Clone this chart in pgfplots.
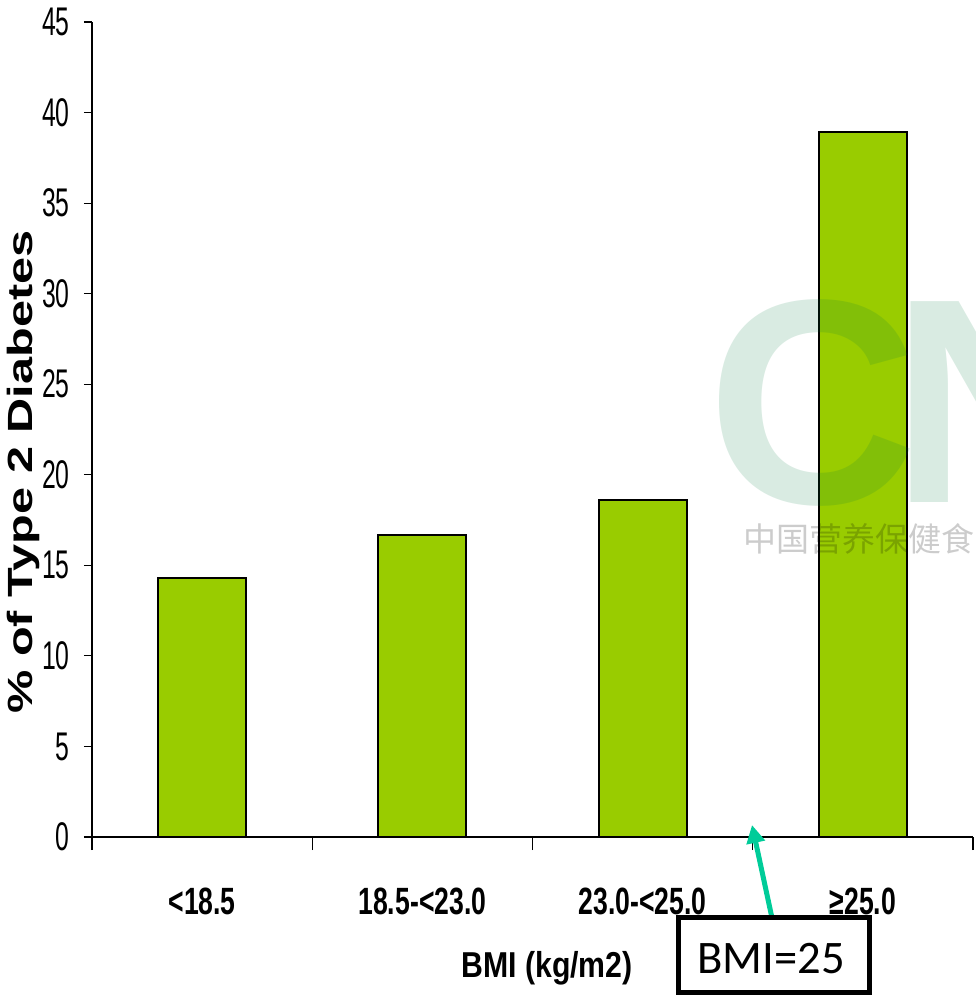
\documentclass[border=0pt]{standalone}
\usepackage{pgfplots}
\pgfplotsset{compat=1.18}
\usepackage{fontspec}
\usetikzlibrary{arrows.meta}
\setmainfont{Liberation Sans}
\newfontfamily\ytickfont[FakeStretch=0.62]{Liberation Sans}
\newfontfamily\xtickfont[FakeStretch=0.70]{Liberation Sans}
\newfontfamily\ylabfont[FakeStretch=1.39]{Liberation Sans}
\newfontfamily\xlabfont[FakeStretch=0.84]{Liberation Sans}
\newfontfamily\boxfont{Carlito}
\newfontfamily\cjk{Noto Sans CJK SC}
\definecolor{barGreen}{RGB}{153,204,0}
\definecolor{arrowTeal}{RGB}{0,204,153}
\definecolor{markGreen}{RGB}{0,120,60}

\begin{document}
\begin{tikzpicture}
\useasboundingbox (-46pt,-79pt) rectangle (441.5pt,418.5pt);
\begin{axis}[
  at={(0pt,0pt)}, anchor=south west,
  scale only axis, width=440.5pt, height=407.5pt,
  xmin=-0.5, xmax=3.5, ymin=0, ymax=45,
  axis x line=bottom, axis y line=left,
  axis line style={-, line width=0.6pt, black},
  xtick={0,1,2,3},
  xticklabels={<18.5, 18.5-<23.0, 23.0-<25.0, ≥25.0},
  minor xtick={-0.5,0.5,1.5,2.5,3.5},
  major x tick style={draw=none},
  ytick={0,5,...,45},
  yticklabels={0,5,10,15,20,25,30,35,40,45},
  tick align=outside,
  major tick length=4pt, minor tick length=6.5pt,
  tick style={line width=0.6pt, black},
  xticklabel style={font=\xtickfont\bfseries\fontsize{19}{19}\selectfont, anchor=base, yshift=-34.5pt},
  yticklabel style={font=\ytickfont\fontsize{20}{20}\selectfont, anchor=east, inner sep=0pt, xshift=-7pt},
]
\addplot[ybar, bar width=0.4, fill=barGreen, draw=black, line width=1pt]
  coordinates {(0,14.3) (1,16.7) (2,18.6) (3,38.9)};
\end{axis}

% axis titles
\node[rotate=90, anchor=base, inner sep=0pt,
      font=\ylabfont\bfseries\fontsize{17.5}{17.5}\selectfont]
  at (-29.5pt,182.5pt) {\% of Type 2 Diabetes};
\node[anchor=base, inner sep=0pt, font=\xlabfont\bfseries\fontsize{18}{18}\selectfont]
  at (227.5pt,-70pt) {BMI (kg/m2)};

% faint watermark
\node[inner sep=0pt, opacity=0.15, text=markGreen,
      font=\bfseries\fontsize{146}{146}\selectfont] at (360.25pt,217.25pt) {C};
\node[inner sep=0pt, opacity=0.15, text=markGreen,
      font=\bfseries\fontsize{146}{146}\selectfont] at (452.5pt,217.25pt) {N};
\node[anchor=west, inner sep=0pt, opacity=0.2, text=black,
      font=\cjk\fontsize{16.5}{16.5}\selectfont] at (325.5pt,149pt) {中国营养保健食品};

% annotation
\draw[arrowTeal, line width=2.5pt, -{Triangle[width=9pt,length=9pt]}]
  (340pt,-40.5pt) -- (330pt,6pt);
\draw[black, line width=2.5pt, fill=white] (293.25pt,-40.25pt) rectangle (388.75pt,-77.5pt);
\node[anchor=base, inner sep=0pt, font=\boxfont\fontsize{23.3}{23.3}\selectfont]
  at (339.5pt,-68pt) {BMI=25};
\end{tikzpicture}
\end{document}
